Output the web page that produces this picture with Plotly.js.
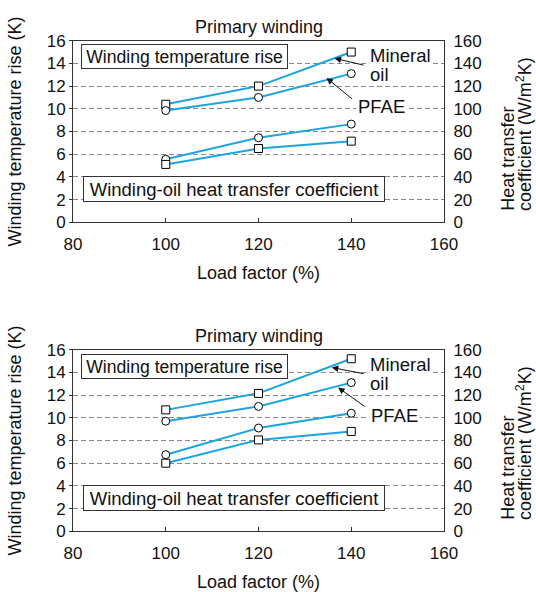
<!DOCTYPE html>
<html>
<head>
<meta charset="utf-8">
<script src="https://cdn.plot.ly/plotly-3.0.1.min.js"></script>
<style>html,body{margin:0;padding:0;background:#fff;}#chart{width:536px;height:592px;}</style>
</head>
<body>
<div id="chart"></div>
<script>
// ---- data ----
const loadFactor = [100, 120, 140];
// upper panel
const topMineralTempRise = [10.4, 12.0, 15.0];
const topPfaeTempRise = [9.85, 11.0, 13.1];
const topMineralHTC = [51, 65, 71.5];
const topPfaeHTC = [55.5, 74.5, 86.5];
// lower panel
const botMineralTempRise = [10.7, 12.15, 15.2];
const botPfaeTempRise = [9.7, 11.0, 13.1];
const botMineralHTC = [60, 80.5, 88];
const botPfaeHTC = [67.5, 91, 104];

const panelTitle = 'Primary winding';
const xTitle = 'Load factor (%)';
const yLeftTitle = 'Winding temperature rise (K)';
const yRightTitleLines = ['Heat transfer', 'coefficient (W/m<sup>2</sup>K)'];
const boxTempText = 'Winding temperature rise';
const boxHtcText = 'Winding-oil heat transfer coefficient';

// ---- style ----
const FONT = 'Liberation Sans, Arial, Helvetica, sans-serif';
const BLUE = '#1ca4e2';
const W = 536, H = 592, L = 72.7, R = 444;
const px = v => (v - L) / (R - L);
const py = v => 1 - v / H;
const OFF = 309;

function trace(y, xa, ya, sym) {
  return {
    x: loadFactor, y: y, xaxis: xa, yaxis: ya, type: 'scatter', mode: 'lines+markers',
    line: {color: BLUE, width: 2},
    marker: {symbol: sym, size: 8, color: '#fff', line: {color: '#000', width: 1}},
    showlegend: false, hoverinfo: 'x+y'
  };
}

const data = [
  trace(topMineralTempRise, 'x', 'y', 'square'),
  trace(topPfaeTempRise, 'x', 'y', 'circle'),
  trace(topPfaeHTC, 'x', 'y2', 'circle'),
  trace(topMineralHTC, 'x', 'y2', 'square'),
  trace(botMineralTempRise, 'x2', 'y3', 'square'),
  trace(botPfaeTempRise, 'x2', 'y3', 'circle'),
  trace(botPfaeHTC, 'x2', 'y4', 'circle'),
  trace(botMineralHTC, 'x2', 'y4', 'square')
];

const tickFont = {family: FONT, size: 17, color: '#111'};
const titleFont = {family: FONT, size: 18, color: '#111'};

function xAxis(anchor) {
  return {
    anchor: anchor, domain: [0, 1], range: [80, 160], dtick: 20, tick0: 80,
    ticks: 'inside', ticklen: 4, tickcolor: '#333', tickwidth: 1,
    showline: true, linecolor: '#333', linewidth: 1, mirror: true,
    showgrid: false, zeroline: false, tickfont: tickFont, ticklabelstandoff: 6,
    title: {text: xTitle, font: titleFont, standoff: 13}
  };
}
function yLeft(anchor, dom) {
  return {
    anchor: anchor, domain: dom, range: [0, 16], dtick: 2, tick0: 0,
    ticks: 'outside', ticklen: 3, tickcolor: '#333', tickwidth: 1,
    showline: true, linecolor: '#333', linewidth: 1,
    showgrid: true, gridcolor: '#8a8a8a', gridwidth: 1, griddash: '5px,3px',
    zeroline: false, tickfont: tickFont,
    title: {text: yLeftTitle, font: titleFont, standoff: 20}
  };
}
function yRight(anchor, over) {
  return {
    anchor: anchor, overlaying: over, side: 'right', range: [0, 160], dtick: 20, tick0: 0,
    ticks: '', showline: true, linecolor: '#333', linewidth: 1,
    showgrid: false, zeroline: false, tickfont: tickFont, ticklabelstandoff: 5
  };
}

const topDom = [py(222.3), py(40.7)];
const botDom = [py(222.3 + OFF), py(40.7 + OFF)];

const annotations = [];
[0, OFF].forEach(o => {
  annotations.push({xref: 'paper', yref: 'paper', x: 0.5, y: py(26.7 + o), xanchor: 'center', yanchor: 'middle',
    text: panelTitle, showarrow: false, font: titleFont});
  annotations.push({xref: 'paper', yref: 'paper', x: px(81), y: py(44.5 + o), xanchor: 'left', yanchor: 'top',
    text: boxTempText, showarrow: false, font: {family: FONT, size: 17.6, color: '#111'},
    bgcolor: '#fff', bordercolor: '#333', borderwidth: 1, borderpad: 0, width: 205, height: 23});
  annotations.push({xref: 'paper', yref: 'paper', x: px(82.7), y: py(175.7 + o), xanchor: 'left', yanchor: 'top',
    text: boxHtcText, showarrow: false, font: {family: FONT, size: 18.5, color: '#111'},
    bgcolor: '#fff', bordercolor: '#333', borderwidth: 1, borderpad: 0, width: 300, height: 24});
  annotations.push({xref: 'paper', yref: 'paper', x: px(508), y: py(211.7 + o), xanchor: 'center', yanchor: 'bottom',
    text: yRightTitleLines[0], textangle: -90, showarrow: false, font: titleFont, borderpad: 0});
  annotations.push({xref: 'paper', yref: 'paper', x: px(524.4), y: py(211.7 + o), xanchor: 'center', yanchor: 'bottom',
    text: yRightTitleLines[1], textangle: -90, showarrow: false, font: titleFont, borderpad: 0});
});

const labelFont = {family: FONT, size: 18.5, color: '#111'};
// upper panel labels and arrows
annotations.push({xref: 'paper', yref: 'paper', x: px(368.5), y: py(55.5), xanchor: 'left', yanchor: 'middle', text: 'Mineral', showarrow: false, font: labelFont, bgcolor: '#fff', borderpad: 0});
annotations.push({xref: 'paper', yref: 'paper', x: px(368.5), y: py(74.5), xanchor: 'left', yanchor: 'middle', text: 'oil', showarrow: false, font: labelFont, bgcolor: '#fff', borderpad: 0});
annotations.push({xref: 'paper', yref: 'paper', x: px(355.7), y: py(107), xanchor: 'left', yanchor: 'middle', text: 'PFAE', showarrow: false, font: labelFont, bgcolor: '#fff', borderpad: 1});
annotations.push({xref: 'paper', yref: 'paper', x: px(334.5), y: py(58.3), text: '', showarrow: true, ax: 30.5, ay: 7.2, arrowhead: 2, arrowsize: 1.3, arrowwidth: 1, arrowcolor: '#111', standoff: 0});
annotations.push({xref: 'paper', yref: 'paper', x: px(326.5), y: py(78), text: '', showarrow: true, ax: 26.8, ay: 22, arrowhead: 2, arrowsize: 1.3, arrowwidth: 1, arrowcolor: '#111', standoff: 0});
// lower panel labels and arrows
annotations.push({xref: 'paper', yref: 'paper', x: px(368.5), y: py(364.8), xanchor: 'left', yanchor: 'middle', text: 'Mineral', showarrow: false, font: labelFont, bgcolor: '#fff', borderpad: 0});
annotations.push({xref: 'paper', yref: 'paper', x: px(368.5), y: py(383.5), xanchor: 'left', yanchor: 'middle', text: 'oil', showarrow: false, font: labelFont, bgcolor: '#fff', borderpad: 0});
annotations.push({xref: 'paper', yref: 'paper', x: px(369), y: py(415.6), xanchor: 'left', yanchor: 'middle', text: 'PFAE', showarrow: false, font: labelFont, bgcolor: '#fff', borderpad: 1});
annotations.push({xref: 'paper', yref: 'paper', x: px(331.7), y: py(367.5), text: '', showarrow: true, ax: 33.3, ay: 6.5, arrowhead: 2, arrowsize: 1.3, arrowwidth: 1, arrowcolor: '#111', standoff: 0});
annotations.push({xref: 'paper', yref: 'paper', x: px(338), y: py(387.5), text: '', showarrow: true, ax: 28, ay: 20, arrowhead: 2, arrowsize: 1.3, arrowwidth: 1, arrowcolor: '#111', standoff: 0});

const layout = {
  width: W, height: H,
  margin: {l: L, r: W - R, t: 0, b: 0, pad: 0},
  paper_bgcolor: '#fff', plot_bgcolor: '#fff',
  font: {family: FONT, size: 17, color: '#111'},
  showlegend: false,
  xaxis: xAxis('y'),
  yaxis: yLeft('x', topDom),
  yaxis2: yRight('x', 'y'),
  xaxis2: xAxis('y3'),
  yaxis3: yLeft('x2', botDom),
  yaxis4: yRight('x2', 'y3'),
  annotations: annotations
};

Plotly.newPlot('chart', data, layout, {displayModeBar: false, staticPlot: true});
</script>
</body>
</html>
